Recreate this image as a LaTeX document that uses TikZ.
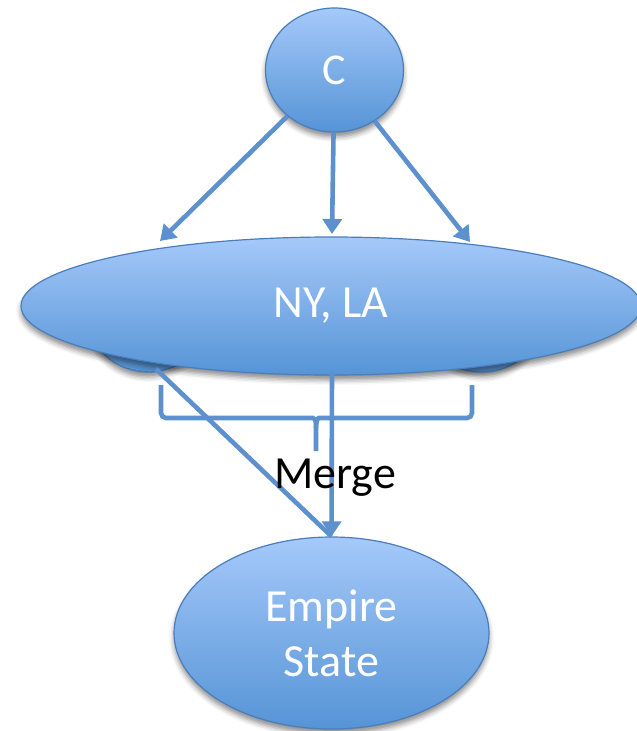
\documentclass[tikz,border=0pt]{standalone}
\usepackage{fontspec}
\setmainfont{Carlito}
\usetikzlibrary{arrows.meta,shadows.blur,shapes.geometric}

\definecolor{edgeblue}{RGB}{74,126,187}
\definecolor{fillhi}{RGB}{165,201,250}
\definecolor{filllo}{RGB}{86,148,214}
\definecolor{linkblue}{RGB}{92,145,205}

\tikzset{
  bubble/.style={ellipse, draw=edgeblue, line width=1.2pt,
    top color=fillhi, bottom color=filllo, text=white, inner sep=0pt,
    blur shadow={shadow xshift=0pt, shadow yshift=-5pt,
      shadow blur radius=5pt, shadow opacity=45}},
  link/.style={draw=linkblue, line width=4.6pt,
    -{Triangle[length=15pt,width=19pt]}},
  plainlink/.style={draw=linkblue, line width=4.6pt},
  bracket/.style={draw=linkblue, line width=4.6pt, rounded corners=5pt}
}

\begin{document}
\begin{tikzpicture}[x=1pt,y=-1pt]
\useasboundingbox (0,0) rectangle (637,731);

% the two source cities, mostly hidden behind the merged node
\node[bubble, minimum width=120pt, minimum height=112pt] (ny) at (148,316) {};
\node[bubble, minimum width=120pt, minimum height=112pt] (la) at (482,316) {};

% merged node
\node[bubble, minimum width=620pt, minimum height=138pt,
      font=\fontsize{46}{54}\selectfont] (nyla) at (331,306) {NY, LA};

% top and bottom nodes
\node[bubble, minimum width=138pt, minimum height=124pt,
      font=\fontsize{44}{48}\selectfont] (c) at (334.5,70) {C};
\node[bubble, minimum width=315pt, minimum height=192pt, align=center,
      font=\fontsize{46}{55}\selectfont] (es) at (331.5,633) {Empire\\State};

% arrow ends on the rim of the merged node
\coordinate (tipL) at (160,241);
\coordinate (tipM) at (332,234);
\coordinate (tipR) at (470,242);

\draw[link] (c) -- (tipL);
\draw[link] (c) -- (tipM);
\draw[link] (c) -- (tipR);

% edges into the merged result
\coordinate (fromNY) at (156,369);
\coordinate (fromMid) at (332,372);
\draw[plainlink] (fromNY) -- (es.north);
\draw[link] (fromMid) -- (es.north);

% brace grouping the merge
\coordinate (bl) at (161,385);
\coordinate (br) at (472,385);
\coordinate (btip) at (316,451);
\draw[bracket] (bl) |- (308,418) .. controls (314,418) and (316,420) .. (316,428) -- (btip);
\draw[bracket] (br) |- (324,418) .. controls (318,418) and (316,420) .. (316,428);

\node[anchor=base, text=black, font=\fontsize{46}{55}\selectfont] (merge) at (335,488) {Merge};
\end{tikzpicture}
\end{document}
